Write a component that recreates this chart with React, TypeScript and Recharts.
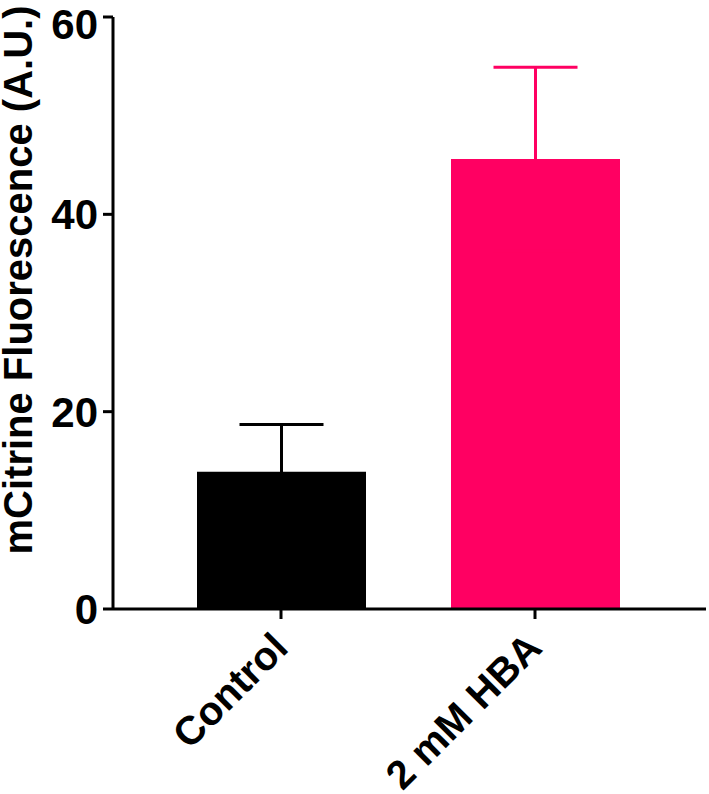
import React from 'react';
import { BarChart, Bar, XAxis, YAxis, ErrorBar } from 'recharts';

const categories = ['Control', '2 mM HBA'];
const controlValues = [13.9, null];
const controlErrors = [4.8, null];
const hbaValues = [null, 45.6];
const hbaErrors = [null, 9.3];
const yTicks = [0, 20, 40, 60];

const FONT = '"Liberation Sans", Arial, Helvetica, sans-serif';
const PINK = '#FF0062';

const data = categories.map((name, i) => ({
  name,
  control: controlValues[i],
  controlErr: controlErrors[i],
  hba: hbaValues[i],
  hbaErr: hbaErrors[i],
}));

function XTick({ x, y, payload }: any) {
  const ax = x + 9;
  const ay = y + 31;
  return (
    <text
      x={ax}
      y={ay}
      textAnchor="end"
      transform={`rotate(-45 ${ax} ${ay})`}
      fill="#000"
      fontSize={40}
      fontWeight="bold"
      fontFamily={FONT}
    >
      {payload.value}
    </text>
  );
}

export default function App() {
  return (
    <div style={{ position: 'absolute', left: 0, top: 0, width: 709, height: 794, background: '#fff' }}>
      <BarChart
        width={709}
        height={794}
        data={data}
        margin={{ top: 17, right: 3, bottom: 35, left: 0 }}
      >
        <XAxis
          dataKey="name"
          height={150}
          padding={{ left: 41, right: 44 }}
          axisLine={{ stroke: '#000', strokeWidth: 3 }}
          tickLine={{ stroke: '#000', strokeWidth: 3 }}
          tickSize={10}
          tickMargin={0}
          interval={0}
          tick={<XTick />}
        />
        <YAxis
          width={113}
          domain={[0, 60]}
          ticks={yTicks}
          allowDataOverflow
          axisLine={{ stroke: '#000', strokeWidth: 3 }}
          tickLine={{ stroke: '#000', strokeWidth: 3 }}
          tickSize={10}
          tickMargin={5}
          tick={{ fill: '#000', fontSize: 42, fontWeight: 'bold', fontFamily: FONT }}
          label={{
            content: () => (
              <text
                x={32}
                y={280}
                textAnchor="middle"
                transform="rotate(-90 32 280)"
                fill="#000"
                fontSize={40}
                fontWeight="bold"
                fontFamily={FONT}
              >
                mCitrine Fluorescence (A.U.)
              </text>
            ),
          }}
        />
        <Bar dataKey="control" stackId="a" fill="#000" barSize={169} isAnimationActive={false}>
          <ErrorBar dataKey="controlErr" width={42} stroke="#000" strokeWidth={3} isAnimationActive={false} />
        </Bar>
        <Bar dataKey="hba" stackId="a" fill={PINK} barSize={169} isAnimationActive={false}>
          <ErrorBar dataKey="hbaErr" width={42} stroke={PINK} strokeWidth={3} isAnimationActive={false} />
        </Bar>
      </BarChart>
    </div>
  );
}
